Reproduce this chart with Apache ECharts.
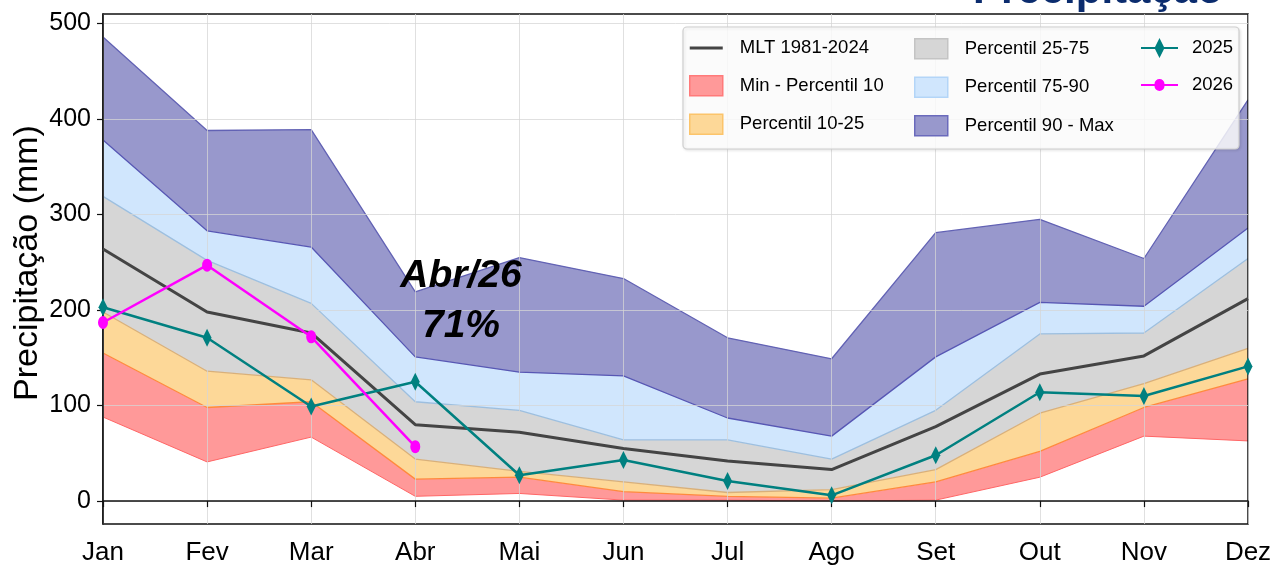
<!DOCTYPE html>
<html>
<head>
<meta charset="utf-8">
<title>Precipitação</title>
<script src="https://cdn.jsdelivr.net/npm/echarts@6/dist/echarts.min.js"></script>
<style>
  html, body { margin: 0; padding: 0; background: #ffffff; }
  #chart { width: 1274px; height: 568px; }
</style>
</head>
<body>
<div id="chart"></div>
<script>
// Monthly precipitation (mm): climatology bands, long-term mean and recent years
const months = ['Jan', 'Fev', 'Mar', 'Abr', 'Mai', 'Jun', 'Jul', 'Ago', 'Set', 'Out', 'Nov', 'Dez'];
const yTicks = [0, 100, 200, 300, 400, 500];

const mlt   = [264, 198, 176, 80, 72, 55, 42, 33, 78, 133, 152, 212];
const pMin  = [88, 41, 67, 5, 8, 1, 1, 0, 1, 25, 68, 63];
const p10   = [155, 98, 104, 23, 25, 10, 5, 3, 20, 52, 98, 128];
const p25   = [198, 136, 127, 44, 31, 20, 9, 12, 33, 92, 123, 160];
const p75   = [319, 252, 207, 104, 95, 64, 64, 44, 95, 175, 176, 254];
const p90   = [378, 283, 266, 151, 135, 131, 87, 68, 151, 208, 204, 286];
const pMax  = [486, 388, 389, 219, 255, 233, 171, 149, 281, 295, 254, 420];
const y2025 = [203, 171, 99, 125, 27, 43, 21, 6, 48, 114, 110, 141];
const y2026 = [187, 247, 172, 57, null, null, null, null, null, null, null, null];

// April 2026 as a share of the long-term mean
const aprIdx = 3;
const aprPct = Math.round(y2026[aprIdx] / mlt[aprIdx] * 100);

const diff = (hi, lo) => hi.map((v, i) => v - lo[i]);

const SANS = "'Liberation Sans', Arial, Helvetica, sans-serif";

const bands = [
  { name: 'Min - Percentil 10', data: diff(p10, pMin),  fill: '#ff9999', edge: '#ff8a3d', icon: '#ff7a7a' },
  { name: 'Percentil 10-25',    data: diff(p25, p10),   fill: '#fdd898', edge: '#d9b07a', icon: '#fcc46a' },
  { name: 'Percentil 25-75',    data: diff(p75, p25),   fill: '#d6d6d6', edge: '#9dbfdf', icon: '#c4c4c4' },
  { name: 'Percentil 75-90',    data: diff(p90, p75),   fill: '#d0e6fd', edge: '#5757b4', icon: '#b3d5f8' },
  { name: 'Percentil 90 - Max', data: diff(pMax, p90),  fill: '#9898cc', edge: '#6262b4', icon: '#6a6abc' }
];

const series = [
  {
    name: 'base', type: 'line', stack: 'bands', data: pMin, symbol: 'none', silent: true, z: 1,
    lineStyle: { color: '#ff6666', width: 1 }, itemStyle: { color: '#ff6666' }
  }
];
bands.forEach(b => {
  series.push({
    name: b.name, type: 'line', stack: 'bands', data: b.data, symbol: 'none', silent: true, z: 1,
    lineStyle: { color: b.edge, width: 1.3 },
    itemStyle: { color: b.fill },
    areaStyle: { color: b.fill, opacity: 1 }
  });
});
series.push(
  {
    name: 'MLT 1981-2024', type: 'line', data: mlt, symbol: 'none', z: 3,
    lineStyle: { color: '#444444', width: 3 }, itemStyle: { color: '#444444' }
  },
  {
    name: '2025', type: 'line', data: y2025, symbol: 'diamond', symbolSize: [9, 18], z: 4,
    lineStyle: { color: '#008080', width: 2.5 }, itemStyle: { color: '#008080' }
  },
  {
    name: '2026', type: 'line', data: y2026, z: 5,
    symbol: 'path://M0,-1A1,1 0 1,1 0,1A1,1 0 1,1 0,-1Z', symbolSize: [10, 13],
    lineStyle: { color: '#ff00ff', width: 2.5 }, itemStyle: { color: '#ff00ff' }
  }
);

const bandItem = name => {
  const b = bands.find(x => x.name === name);
  return { name, icon: 'rect', itemStyle: { color: b.fill, borderColor: b.icon, borderWidth: 1.5 } };
};

// legend glyphs: a line crossed by the series marker
const ICON_LINE = 'path://M0,0H33V3H0Z';
const ICON_DIAMOND = 'path://M0,9H14L18.5,0L23,9H37V11H23L18.5,20L14,11H0Z';
const ICON_DOT = 'path://M0,9H13.5A5,5 0 0,1 23.5,9H37V11H23.5A5,5 0 0,1 13.5,11H0Z';

const legendBase = {
  orient: 'vertical', top: 38, itemWidth: 33, itemHeight: 20, itemGap: 17,
  selectedMode: false, z: 11, padding: 0,
  textStyle: { fontFamily: SANS, fontSize: 18.5, color: '#000', lineHeight: 20, padding: [0, 0, 0, 12] }
};

const gridLine = { color: 'rgba(214,214,214,0.75)', width: 1 };
const spine = { color: '#111111', width: 1.5 };

const option = {
  animation: false,
  backgroundColor: '#ffffff',
  grid: {
    left: 103, right: 26, top: 14, bottom: 44, outerBoundsMode: 'none',
    show: true, borderColor: '#111111', borderWidth: 1.5, backgroundColor: 'transparent', z: 2
  },
  xAxis: {
    type: 'category', data: months, boundaryGap: false, z: 2,
    axisLine: { lineStyle: spine },
    axisTick: { show: true, length: 6, lineStyle: { color: '#111', width: 1.2 } },
    axisLabel: { fontFamily: SANS, fontSize: 26, color: '#000', margin: 16 },
    splitLine: { show: true, lineStyle: gridLine }
  },
  yAxis: {
    type: 'value', min: -24, max: 510, z: 2,
    name: 'Precipitação (mm)', nameLocation: 'middle', nameGap: 58, nameMoveOverlap: false,
    nameTextStyle: { fontFamily: SANS, fontSize: 34, color: '#000', padding: [0, 0, 0, 12] },
    axisLine: { show: true, lineStyle: spine },
    axisTick: { show: true, length: 6, customValues: yTicks, lineStyle: { color: '#111', width: 1.2 } },
    axisLabel: { customValues: yTicks, fontFamily: SANS, fontSize: 25, color: '#000', margin: 12 },
    splitLine: { show: true, lineStyle: gridLine }
  },
  legend: [
    Object.assign({}, legendBase, { left: 689, data: [
      { name: 'MLT 1981-2024', icon: ICON_LINE, itemStyle: { color: '#444444' } },
      bandItem('Min - Percentil 10'), bandItem('Percentil 10-25')
    ] }),
    Object.assign({}, legendBase, { left: 914, data: [
      bandItem('Percentil 25-75'), bandItem('Percentil 75-90'), bandItem('Percentil 90 - Max')
    ] }),
    Object.assign({}, legendBase, { left: 1141, itemWidth: 37, textStyle: Object.assign({}, legendBase.textStyle, { padding: [0, 0, 0, 9] }), data: [
      { name: '2025', icon: ICON_DIAMOND, itemStyle: { color: '#008080' } },
      { name: '2026', icon: ICON_DOT, itemStyle: { color: '#ff00ff' } }
    ] })
  ],
  graphic: [
    {
      type: 'rect', z: 10, silent: true,
      shape: { x: 683, y: 27, width: 556, height: 122, r: 4 },
      style: {
        fill: 'rgba(255,255,255,0.82)', stroke: '#cfcfcf', lineWidth: 1.2,
        shadowBlur: 3, shadowColor: 'rgba(0,0,0,0.12)', shadowOffsetX: 1, shadowOffsetY: 1
      }
    },
    {
      type: 'text', z: 10, x: 461, y: 276,
      style: { text: months[aprIdx] + '/26', font: 'italic bold 39px ' + SANS, fill: '#000', align: 'center', verticalAlign: 'middle' }
    },
    {
      type: 'text', z: 10, x: 461, y: 326,
      style: { text: aprPct + '%', font: 'italic bold 39px ' + SANS, fill: '#000', align: 'center', verticalAlign: 'middle' }
    },
    {
      type: 'text', z: 10, x: 973, y: -8.5,
      style: { text: 'Precipitação', font: 'bold 42px ' + SANS, fill: '#0b2c6e', align: 'left', verticalAlign: 'middle' }
    }
  ],
  series: series
};

const chart = echarts.init(document.getElementById('chart'), null, { renderer: 'canvas' });
chart.setOption(option);
</script>
</body>
</html>
